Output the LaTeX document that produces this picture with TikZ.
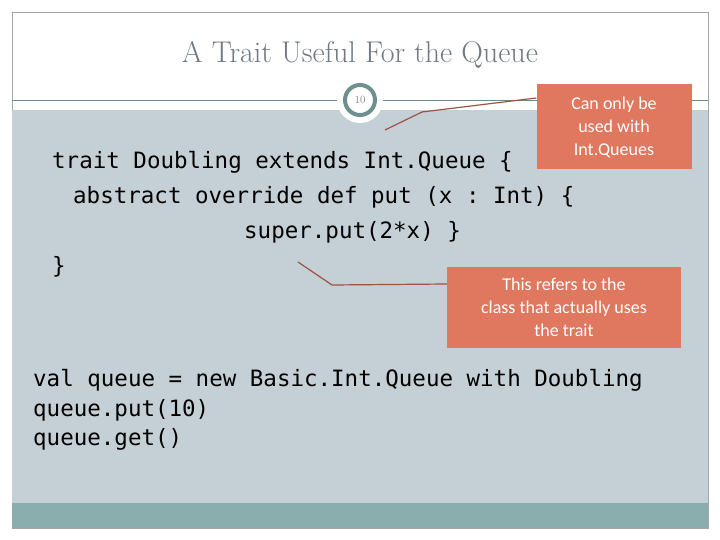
\documentclass[tikz,border=0pt]{standalone}
\usepackage{fontspec}
\setmonofont{DejaVu Sans Mono}
\newfontfamily\notefont{Carlito}
\usetikzlibrary{positioning}
\definecolor{slidegray}{HTML}{C5D0D6}
\definecolor{slideteal}{HTML}{8AADAD}
\definecolor{ringteal}{HTML}{6F8F8F}
\definecolor{notered}{HTML}{E0775F}
\definecolor{titlegray}{HTML}{707A80}
\begin{document}
\begin{tikzpicture}[x=1pt,y=-1pt,
  note/.style={fill=notered,text=white,font=\notefont\fontsize{18}{23}\selectfont,
    align=center,inner sep=3pt},
  code/.style={anchor=west,font=\ttfamily\fontsize{22.5}{27}\selectfont,inner sep=0pt},
  pointer/.style={draw=notered!70!black,line width=1.2pt}]
\useasboundingbox (0,0) rectangle (720,540);
\draw[gray!70] (12,12) rectangle (708,528);
\fill[slidegray] (12,110) rectangle (708,503);
\fill[slideteal] (12,503) rectangle (708,528);
\draw[ringteal] (12,100) -- (708,100);
\node[font=\fontsize{30}{36}\selectfont,text=titlegray] (title) at (360,55) {A Trait Useful For the Queue};
\node[circle,fill=white,minimum size=46pt] (ring) at (360,100) {};
\node[circle,draw=ringteal,line width=4pt,fill=white,minimum size=30pt,
  font=\fontsize{11}{13}\selectfont,text=gray] (num) at (360,100) {10};
% code lines
\node[code] (c1) at (52,162) {trait Doubling  extends Int.Queue \{};
\node[code] (c2) at (73,197) {abstract override def put (x : Int) \{};
\node[code] (c3) at (244,232) {super.put(2*x) \}};
\node[code] (c4) at (52,267) {\}};
\node[code] (c5) at (33,380) {val queue = new Basic.Int.Queue with Doubling};
\node[code] (c6) at (33,410) {queue.put(10)};
\node[code] (c7) at (33,439) {queue.get()};
% callouts
\node[note,minimum width=155pt,minimum height=85pt] (n1) at (614,127) {Can only be\\used with\\Int.Queues};
\node[note,minimum width=234pt,minimum height=81pt] (n2) at (564,307) {This refers to the\\class that actually uses\\the trait};
\coordinate (p1) at (385,130);
\coordinate (p2) at (298,262);
\draw[pointer] (n1.west|-0,98) -- (422,112) -- (p1);
\draw[pointer] (n2.west|-0,284) -- (332,285) -- (p2);
\end{tikzpicture}
\end{document}
